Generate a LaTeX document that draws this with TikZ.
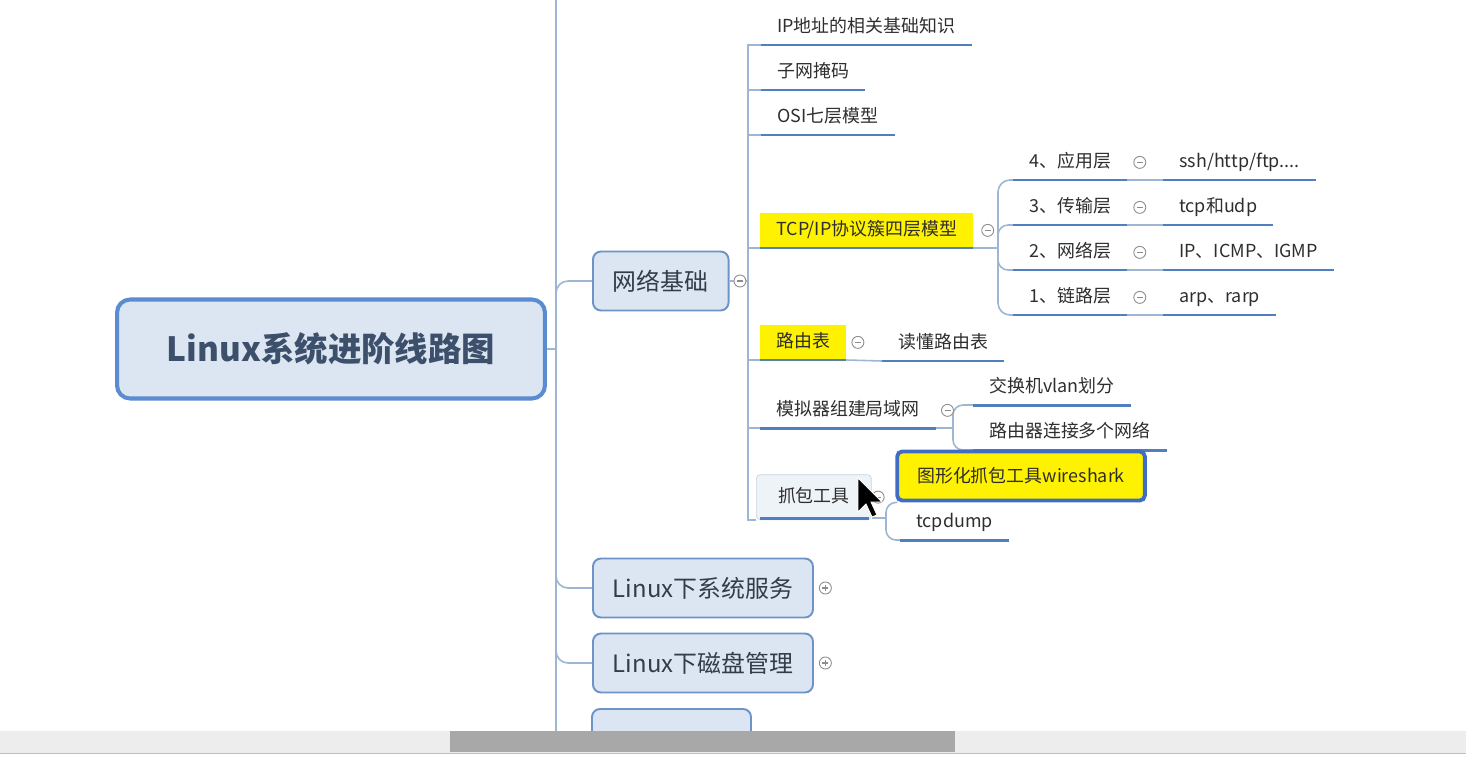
\documentclass[tikz,border=0pt]{standalone}
\usepackage{fontspec}
\setmainfont{Noto Sans CJK SC}
\usetikzlibrary{positioning}
\definecolor{linkgray}{HTML}{9FB6D2}
\definecolor{ulblue}{HTML}{4F7FBF}
\definecolor{boxfill}{HTML}{DCE6F2}
\definecolor{boxline}{HTML}{6E93C8}
\definecolor{rootline}{HTML}{5B8BD0}
\definecolor{roottext}{HTML}{3C4F6B}
\definecolor{txtgray}{HTML}{2E2E2E}
\definecolor{txtdark}{HTML}{333D4A}
\definecolor{hoverfill}{HTML}{EEF3F8}
\definecolor{hoverline}{HTML}{C9D5E3}
\definecolor{foldgray}{HTML}{8C8C8C}
\definecolor{wsline}{HTML}{3F6DC3}
\definecolor{barfill}{HTML}{EDEDED}
\definecolor{thumbgray}{HTML}{A8A8A8}
\begin{document}
\begin{tikzpicture}[x=0.02cm,y=-0.02cm,
  conn/.style={draw=linkgray, line width=0.9pt},
  uline/.style={draw=ulblue, line width=1.7pt},
  rootbox/.style={rounded corners=0.26cm, draw=rootline, fill=boxfill, line width=2.3pt,
    minimum width=8.56cm, minimum height=1.98cm, text=roottext,
    font=\fontsize{19pt}{22pt}\selectfont\bfseries},
  topic/.style={rounded corners=0.16cm, draw=boxline, fill=boxfill, line width=1.1pt,
    minimum height=1.18cm, inner xsep=0.4cm, anchor=west, text=txtdark,
    font=\fontsize{13.6pt}{16pt}\selectfont},
  leaf/.style={anchor=south west, inner xsep=0.32cm, inner ysep=0.17cm,
    text height=0.8em, text depth=0.2em, text=txtgray,
    font=\fontsize{10.2pt}{12pt}\selectfont},
  hl/.style={leaf, fill=yellow},
  hover/.style={leaf, draw=hoverline, fill=hoverfill, rounded corners=0.08cm,
    minimum height=0.9cm, minimum width=2.3cm},
  wsbox/.style={draw=wsline, line width=2.2pt, fill=yellow, rounded corners=0.1cm,
    inner xsep=0.4cm, minimum height=0.98cm, text=txtgray,
    font=\fontsize{10.2pt}{12pt}\selectfont},
  fold/.style={circle, draw=foldgray, fill=white, minimum size=0.24cm, inner sep=0pt, line width=0.5pt,
    path picture={\draw[foldgray, line width=0.6pt]
      ([xshift=-0.06cm]path picture bounding box.center) -- ([xshift=0.06cm]path picture bounding box.center);}},
  unfold/.style={circle, draw=foldgray, fill=white, minimum size=0.24cm, inner sep=0pt, line width=0.5pt,
    path picture={\draw[foldgray, line width=0.6pt]
      ([xshift=-0.06cm]path picture bounding box.center) -- ([xshift=0.06cm]path picture bounding box.center)
      ([yshift=-0.06cm]path picture bounding box.center) -- ([yshift=0.06cm]path picture bounding box.center);}}]
\useasboundingbox (0,0) rectangle (1466,764);
\fill[white] (0,0) rectangle (1466,764);

% trunk
\coordinate (ttop) at (556,0);
\coordinate (tbot) at (556,731);
\draw[conn] (ttop) -- (tbot);

\node[rootbox] (root) at (331,349) {Linux系统进阶线路图};
\node[topic] (net) at (592,281) {网络基础};
\node[topic] (svc) at (592,588) {Linux下系统服务};
\node[topic] (disk) at (592,663) {Linux下磁盘管理};
\draw[boxline, fill=boxfill, line width=1.1pt, rounded corners=0.16cm] (592,709) rectangle (751,745);

\draw[conn] (root.east) -- (root.east -| ttop);
\draw[conn, rounded corners=0.24cm] (root.east -| ttop) |- (net.west);
\draw[conn, rounded corners=0.24cm] (root.east -| ttop) |- (svc.west);
\draw[conn, rounded corners=0.24cm] (root.east -| ttop) |- (disk.west);

% network basics
\node[leaf] (ip) at (761,45) {IP地址的相关基础知识};
\node[leaf] (mask) at (761,90) {子网掩码};
\node[leaf] (osi) at (761,135) {OSI七层模型};
\node[hl] (tcp) at (760,248) {TCP/IP协议簇四层模型};
\node[hl] (route) at (760,360) {路由表};
\node[leaf] (sim) at (760,428) {模拟器组建局域网};
\node[hover] (cap) at (756,520) {抓包工具};

\coordinate (fk1) at (748,281);
\draw[conn] (net.east) -- (fk1);
\draw[conn] (fk1) |- (ip.south west);
\draw[conn] (fk1) |- (mask.south west);
\draw[conn] (fk1) |- (osi.south west);
\draw[conn] (fk1) |- (tcp.south west);
\draw[conn] (fk1) |- (route.south west);
\draw[conn] (fk1) |- (sim.south west);
\draw[conn] (fk1) |- (cap.south west);

% tcp/ip layers
\node[leaf] (l4) at (1013,180) {4、应用层};
\node[leaf] (l3) at (1013,225) {3、传输层};
\node[leaf] (l2) at (1013,270) {2、网络层};
\node[leaf] (l1) at (1013,315) {1、链路层};
\node[leaf] (r4) at (1163,180) {ssh/http/ftp....};
\node[leaf] (r3) at (1163,225) {tcp和udp};
\node[leaf] (r2) at (1163,270) {IP、ICMP、IGMP};
\node[leaf] (r1) at (1163,315) {arp、rarp};

\coordinate (fk2) at (998,248);
\draw[conn] (tcp.south east) -- (fk2);
\draw[conn, rounded corners=0.24cm] (fk2) |- (l4.south west);
\draw[conn, rounded corners=0.2cm] (fk2) |- (l3.south west);
\draw[conn, rounded corners=0.2cm] (fk2) |- (l2.south west);
\draw[conn, rounded corners=0.24cm] (fk2) |- (l1.south west);
\draw[conn] (l4.south east) -- (r4.south west);
\draw[conn] (l3.south east) -- (r3.south west);
\draw[conn] (l2.south east) -- (r2.south west);
\draw[conn] (l1.south east) -- (r1.south west);

% routing table
\node[leaf] (readrt) at (882,361) {读懂路由表};
\draw[conn] (route.south east) -- (readrt.south west);

% simulator
\node[leaf] (vlan) at (973,405) {交换机vlan划分};
\node[leaf] (rtr) at (973,450) {路由器连接多个网络};
\coordinate (fk3) at (953,428);
\draw[conn] (sim.south east) -- (fk3);
\draw[conn, rounded corners=0.2cm] (fk3) |- (vlan.south west);
\draw[conn, rounded corners=0.2cm] (fk3) |- (rtr.south west);

% capture tools
\node[leaf] (tcpd) at (900,540) {tcpdump};
\coordinate (fk4) at (886,518);
\draw[conn] (cap.south east |- fk4) -- (fk4);
\draw[conn, rounded corners=0.2cm] (fk4) |- (tcpd.south west);

% underlines
\draw[uline] (ip.south west) -- (ip.south east);
\draw[uline] (mask.south west) -- (mask.south east);
\draw[uline] (osi.south west) -- (osi.south east);
\draw[uline] (tcp.south west) -- (tcp.south east);
\draw[uline] (route.south west) -- (route.south east);
\draw[uline] (sim.south west) -- (sim.south east);
\draw[uline] ([xshift=0.08cm]cap.south west |- fk4) -- ([xshift=-0.06cm]cap.south east |- fk4);
\draw[uline] (l4.south west) -- (l4.south east);
\draw[uline] (l3.south west) -- (l3.south east);
\draw[uline] (l2.south west) -- (l2.south east);
\draw[uline] (l1.south west) -- (l1.south east);
\draw[uline] (r4.south west) -- (r4.south east);
\draw[uline] (r3.south west) -- (r3.south east);
\draw[uline] (r2.south west) -- (r2.south east);
\draw[uline] (r1.south west) -- (r1.south east);
\draw[uline] (readrt.south west) -- (readrt.south east);
\draw[uline] (vlan.south west) -- (vlan.south east);
\draw[uline] (rtr.south west) -- (rtr.south east);
\draw[uline] (tcpd.south west) -- (tcpd.south east);

\node[wsbox] (ws) at (1021,476) {图形化抓包工具wireshark};
\draw[conn, rounded corners=0.2cm] (fk4) |- ([xshift=0.04cm]ws.south west);

% fold marks
\node[fold, right=0.08cm of net] (netf) {};
\node[fold, right=0.16cm of tcp] (tcpf) {};
\node[fold, right=0.1cm of route] (routef) {};
\node[fold, right=0.1cm of sim] (simf) {};
\node[fold, right=0.0cm of cap] (capf) {};
\node[fold, right=0.12cm of l4] (l4f) {};
\node[fold, right=0.12cm of l3] (l3f) {};
\node[fold, right=0.12cm of l2] (l2f) {};
\node[fold, right=0.12cm of l1] (l1f) {};
\node[unfold, right=0.1cm of svc] (svcf) {};
\node[unfold, right=0.1cm of disk] (diskf) {};

% pointer
\filldraw[fill=black, draw=white, line width=0.5pt] (858,478) -- ++(0,34) -- ++(8,-8) -- ++(6,13)
  -- ++(5,-2) -- ++(-6,-13) -- ++(11,0) -- cycle;

% scroll bar
\fill[barfill] (0,731) rectangle (1466,753);
\fill[thumbgray] (450,731) rectangle (955,752);
\draw[black!25] (0,753.5) -- (1466,753.5);
\fill[white] (0,754) rectangle (1466,764);
\end{tikzpicture}
\end{document}
